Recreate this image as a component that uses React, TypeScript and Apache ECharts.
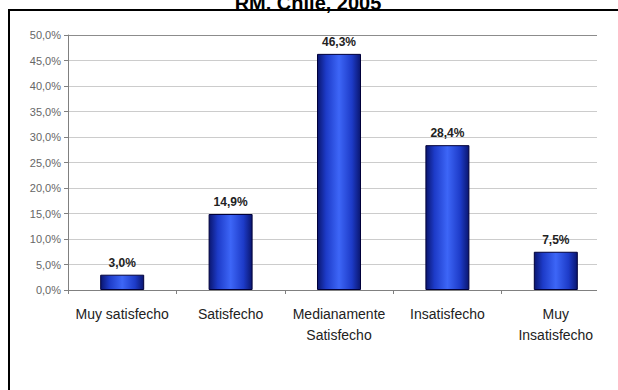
import React, { useEffect, useRef } from "react";
import * as echarts from "echarts";

const titleText = "RM. Chile, 2005";
const categories = [
  "Muy satisfecho",
  "Satisfecho",
  "Medianamente\nSatisfecho",
  "Insatisfecho",
  "Muy\nInsatisfecho",
];
const values = [3.0, 14.9, 46.3, 28.4, 7.5];
const yMin = 0;
const yMax = 50;
const yInterval = 5;

const fmt = (v: number) => v.toFixed(1).replace(".", ",") + "%";

export default function App() {
  const ref = useRef<HTMLDivElement>(null);
  useEffect(() => {
    if (!ref.current) return;
    const chart = echarts.init(ref.current, null, { renderer: "svg" });
    const gridColors = ["#cccccc", "#cccccc", "#cccccc", "#cccccc", "#cccccc", "#cccccc", "#cccccc", "#cccccc", "#cccccc", "#cccccc", "#8c8c8c"];
    chart.setOption({
      animation: false,
      backgroundColor: "transparent",
      textStyle: { fontFamily: "Liberation Sans, Arial, sans-serif" },
      graphic: [
        {
          type: "text",
          x: 308,
          y: 13,
          style: {
            text: titleText,
            textAlign: "center",
            textVerticalAlign: "bottom",
            font: "bold 20px 'Liberation Sans', Arial, sans-serif",
            fill: "#000",
          },
        },
      ],
      grid: { left: 68, right: 30, top: 35, bottom: 51, outerBoundsMode: "none", containLabel: false },
      xAxis: {
        type: "category",
        data: categories,
        axisLine: { lineStyle: { color: "#808080", width: 1 } },
        axisTick: { show: true, length: 4, lineStyle: { color: "#808080" } },
        axisLabel: {
          color: "#222",
          fontSize: 14,
          lineHeight: 21,
          margin: 13,
          interval: 0,
          fontFamily: "Liberation Sans, Arial, sans-serif",
        },
      },
      yAxis: {
        type: "value",
        min: yMin,
        max: yMax,
        interval: yInterval,
        axisLine: { show: true, lineStyle: { color: "#808080", width: 1 } },
        axisTick: { show: true, length: 4, lineStyle: { color: "#808080" } },
        splitLine: { show: true, lineStyle: { color: gridColors, width: 1 } },
        axisLabel: {
          color: "#666",
          fontSize: 11,
          margin: 7,
          formatter: (v: number) => fmt(v),
          fontFamily: "Liberation Sans, Arial, sans-serif",
        },
      },
      series: [
        {
          type: "bar",
          data: values,
          barWidth: 44,
          itemStyle: {
            borderColor: "#00003a",
            borderWidth: 1,
            color: new echarts.graphic.LinearGradient(0, 0, 1, 0, [
              { offset: 0, color: "#0a1670" },
              { offset: 0.2, color: "#1d3bc8" },
              { offset: 0.5, color: "#3d66f7" },
              { offset: 0.8, color: "#1d3bc8" },
              { offset: 1, color: "#0a1670" },
            ]),
          },
          label: {
            show: true,
            position: "top",
            distance: 6,
            color: "#222",
            fontSize: 12,
            fontWeight: "bold",
            formatter: (p: any) => fmt(p.value),
            fontFamily: "Liberation Sans, Arial, sans-serif",
          },
        },
      ],
    });
    return () => chart.dispose();
  }, []);

  return (
    <div
      style={{
        position: "fixed",
        left: 0,
        top: 0,
        width: 618,
        height: 390,
        overflow: "hidden",
        background: "#fff",
      }}
    >
      <div
        style={{
          position: "absolute",
          left: 8,
          top: 9,
          width: 700,
          height: 500,
          borderTop: "2px solid #000",
          borderLeft: "2px solid #000",
        }}
      />
      <div
        style={{
          position: "absolute",
          left: 0,
          top: 0,
          width: 597,
          height: 340,
          overflow: "hidden",
        }}
      >
        <div ref={ref} style={{ width: 640, height: 341 }} />
      </div>
    </div>
  );
}
